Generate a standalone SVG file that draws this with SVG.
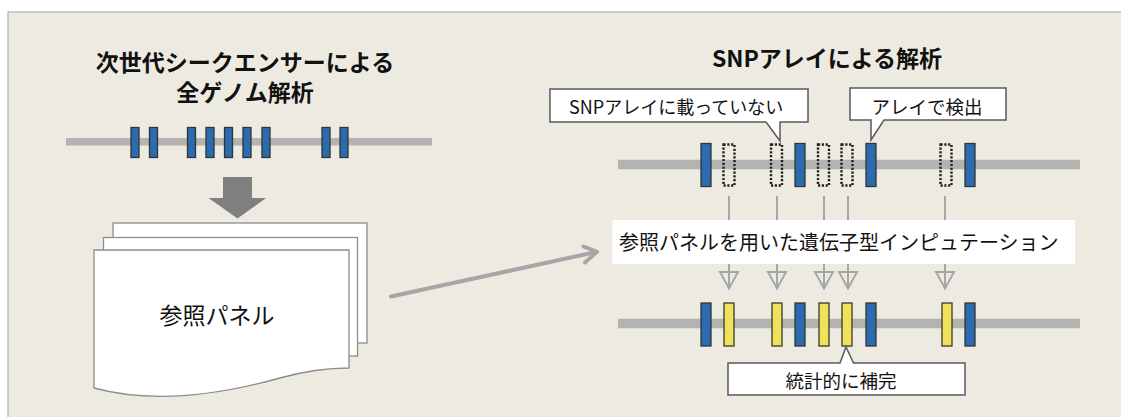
<svg xmlns="http://www.w3.org/2000/svg" width="1121" height="417" viewBox="0 0 1121 417">
<defs>
<style>
.t{font-family:"Noto Sans CJK JP","Noto Sans",sans-serif;fill:#111}
.b{font-weight:700}
.chrom{stroke:#B3B4B2;fill:none}
.blue{fill:#2B6CB0;stroke:#333;stroke-width:1.3}
.yel{fill:#EEE25A;stroke:#3F3626;stroke-width:1.3}
.dot{fill:none;stroke:#222;stroke-width:2.4;stroke-dasharray:2.2 1.6}
.sheet{fill:#fff;stroke:#8C8C8C;stroke-width:1.3}
.call{fill:#fff;stroke:#595959;stroke-width:1.5}
.imp{stroke:#A6A6A6;stroke-width:2;fill:none}
</style>
</defs>
<rect x="8" y="12" width="1120" height="420" fill="#EDEBE1" stroke="#B2B2B2" stroke-width="1.2"/>

<g id="title-left">
<text class="t b" x="245" y="70.5" font-size="23" text-anchor="middle">次世代シークエンサーによる</text>
<text class="t b" x="245" y="100.5" font-size="23" text-anchor="middle">全ゲノム解析</text>
</g>
<g id="title-right">
<text class="t b" x="827" y="67" font-size="23" text-anchor="middle">SNPアレイによる解析</text>
</g>

<g id="genome-left">
<line class="chrom" x1="66" y1="141.8" x2="432" y2="141.8" stroke-width="7.5"/>
<rect class="blue" x="131" y="127.5" width="8" height="30"/>
<rect class="blue" x="149.5" y="127.5" width="8" height="30"/>
<rect class="blue" x="187.5" y="127.5" width="8" height="30"/>
<rect class="blue" x="206" y="127.5" width="8" height="30"/>
<rect class="blue" x="224.5" y="127.5" width="8" height="30"/>
<rect class="blue" x="243" y="127.5" width="8" height="30"/>
<rect class="blue" x="262" y="127.5" width="8" height="30"/>
<rect class="blue" x="322" y="127.5" width="8" height="30"/>
<rect class="blue" x="340" y="127.5" width="8" height="30"/>
</g>

<g id="down-arrow">
<polygon points="223,177 252,177 252,198 266,198 237.5,218.5 208.5,198 223,198" fill="#7F7F7F"/>
</g>

<g id="ref-panel">
<rect class="sheet" x="113" y="223" width="254" height="120"/>
<rect class="sheet" x="103.5" y="237.5" width="254" height="118.5"/>
<path class="sheet" d="M94,250 H349 V368 C325,368 305,371 280,378 C230,392 160,406 94,388 Z"/>
<text class="t" x="217" y="324" font-size="23" text-anchor="middle">参照パネル</text>
</g>

<g id="genome-array">
<line class="chrom" x1="618" y1="164.5" x2="1080" y2="164.5" stroke-width="9.5"/>
<rect class="blue" x="701" y="143.5" width="10" height="43"/>
<rect class="dot" x="723.5" y="144.5" width="11" height="41"/>
<rect class="dot" x="771" y="144.5" width="11" height="41"/>
<rect class="blue" x="795" y="143.5" width="10" height="43"/>
<rect class="dot" x="818" y="144.5" width="11" height="41"/>
<rect class="dot" x="841.5" y="144.5" width="11" height="41"/>
<rect class="blue" x="866" y="143.5" width="10" height="43"/>
<rect class="dot" x="940.5" y="144.5" width="11" height="41"/>
<rect class="blue" x="965" y="143.5" width="10" height="43"/>
</g>

<g id="genome-imputed">
<line class="chrom" x1="618" y1="323.5" x2="1080" y2="323.5" stroke-width="9.5"/>
<rect class="blue" x="701" y="303" width="10" height="43"/>
<rect class="yel" x="724" y="303" width="10" height="43"/>
<rect class="yel" x="772" y="303" width="10" height="43"/>
<rect class="blue" x="795" y="303" width="10" height="43"/>
<rect class="yel" x="819" y="303" width="10" height="43"/>
<rect class="yel" x="842" y="303" width="10" height="43"/>
<rect class="blue" x="866" y="303" width="10" height="43"/>
<rect class="yel" x="942" y="303" width="10" height="43"/>
<rect class="blue" x="965" y="303" width="10" height="43"/>
</g>

<g id="connectors">
<line x1="391" y1="296.5" x2="596" y2="252" stroke="#A6A6A6" stroke-width="4" stroke-linecap="round"/>
<polyline points="583.5,246.5 597,251.8 585,262.5" fill="none" stroke="#A6A6A6" stroke-width="4" stroke-linecap="round" stroke-linejoin="round"/>
<g class="imp">
<line x1="729" y1="196" x2="729" y2="289"/>
<line x1="777" y1="196" x2="777" y2="289"/>
<line x1="824" y1="196" x2="824" y2="289"/>
<line x1="848" y1="196" x2="848" y2="289"/>
<line x1="945" y1="196" x2="945" y2="289"/>
<polygon points="720,272 738,272 729,288.5"/>
<polygon points="768,272 786,272 777,288.5"/>
<polygon points="815,272 833,272 824,288.5"/>
<polygon points="839,272 857,272 848,288.5"/>
<polygon points="936,272 954,272 945,288.5"/>
</g>
</g>

<g id="imputation-box">
<rect x="612.5" y="220" width="462.5" height="44" fill="#fff"/>
<text class="t" x="619" y="249.5" font-size="20">参照パネルを用いた遺伝子型インピュテーション</text>
</g>

<g id="callout-not-on-array">
<path class="call" d="M550,89 H808 V122 H780 V141 L766,122 H550 Z"/>
<text class="t" x="569" y="114" font-size="18">SNPアレイに載っていない</text>
</g>
<g id="callout-detected">
<path class="call" d="M850,88 H1006 V120 H884 L871,140 V120 H850 Z"/>
<text class="t" x="927" y="113.5" font-size="18.5" text-anchor="middle">アレイで検出</text>
</g>
<g id="callout-imputed">
<path class="call" d="M728,363 H840 L846,347 L853.5,363 H965 V395 H728 Z"/>
<text class="t" x="841" y="388" font-size="18.5" text-anchor="middle">統計的に補完</text>
</g>
</svg>
